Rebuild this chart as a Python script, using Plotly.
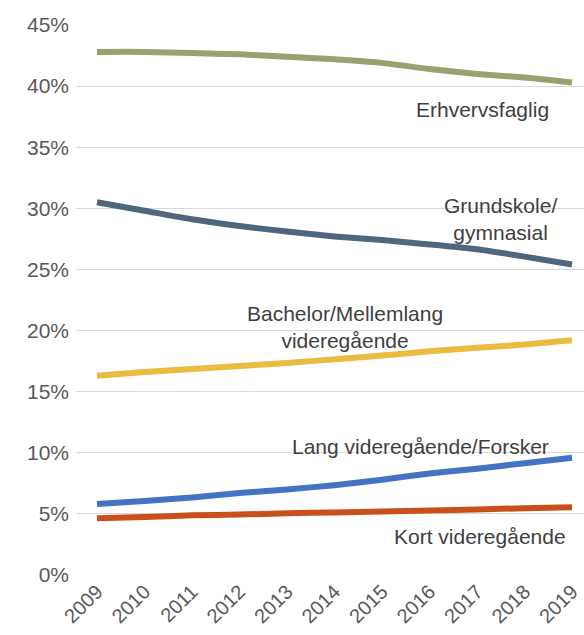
import plotly.graph_objects as go

years = [2009, 2010, 2011, 2012, 2013, 2014, 2015, 2016, 2017, 2018, 2019]
year_labels = [str(y) for y in years]

erhvervsfaglig = [42.8, 42.8, 42.7, 42.6, 42.4, 42.2, 41.9, 41.4, 41.0, 40.7, 40.3]
grundskole = [30.5, 29.8, 29.1, 28.55, 28.1, 27.7, 27.4, 27.05, 26.65, 26.05, 25.4]
bachelor = [16.3, 16.6, 16.85, 17.1, 17.35, 17.65, 17.95, 18.3, 18.6, 18.85, 19.2]
lang = [5.8, 6.05, 6.35, 6.7, 7.0, 7.35, 7.8, 8.3, 8.7, 9.15, 9.6]
kort = [4.65, 4.75, 4.88, 4.95, 5.05, 5.12, 5.2, 5.27, 5.35, 5.47, 5.55]

series = [
    ("Erhvervsfaglig", erhvervsfaglig, "#9C9F6E"),
    ("Grundskole/gymnasial", grundskole, "#50667D"),
    ("Bachelor/Mellemlang videregående", bachelor, "#E9BB41"),
    ("Lang videregående/Forsker", lang, "#4472C4"),
    ("Kort videregående", kort, "#C9501C"),
]

y_ticks = [0, 5, 10, 15, 20, 25, 30, 35, 40, 45]
y_tick_labels = [f"{v}%" for v in y_ticks]

labels = [
    ("Erhvervsfaglig", 2017.12, 38.1),
    ("Grundskole/<br>gymnasial", 2017.5, 29.1),
    ("Bachelor/Mellemlang<br>videregående", 2014.23, 20.3),
    ("Lang videregående/Forsker", 2015.81, 10.5),
    ("Kort videregående", 2017.06, 3.15),
]

fig = go.Figure()
for name, vals, color in series:
    fig.add_trace(go.Scatter(
        x=years, y=vals, mode="lines", name=name,
        line=dict(color=color, width=6, shape="spline", smoothing=0.6),
        hoverinfo="x+y",
    ))

for text, x, y in labels:
    fig.add_annotation(
        x=x, y=y, xref="x", yref="y", text=text, showarrow=False,
        font=dict(family="Liberation Sans, Arial, sans-serif", size=21, color="#404040"),
        xanchor="center", yanchor="middle", align="center",
    )

fig.update_layout(
    width=584, height=635,
    margin=dict(l=76, r=0, t=25, b=60),
    paper_bgcolor="white", plot_bgcolor="white",
    showlegend=False,
    font=dict(family="Liberation Sans, Arial, sans-serif", color="#595959"),
    xaxis=dict(
        range=[2008.558, 2019.253], automargin=False,
        tickmode="array", tickvals=years, ticktext=year_labels,
        tickangle=-45, tickfont=dict(size=20, color="#595959"),
        showgrid=False, zeroline=False, showline=False, ticks="",
    ),
    yaxis=dict(
        range=[0, 45], automargin=False,
        tickmode="array", tickvals=y_ticks, ticktext=y_tick_labels,
        tickfont=dict(size=21, color="#595959"),
        showgrid=True, gridcolor="#D9D9D9", gridwidth=1.3,
        zeroline=False, showline=False, ticks="", ticklabelstandoff=6,
    ),
)

fig.write_html(
    "out.html",
    config={"displayModeBar": False},
    post_script="document.body.style.margin='0';document.body.style.overflow='hidden';",
)
